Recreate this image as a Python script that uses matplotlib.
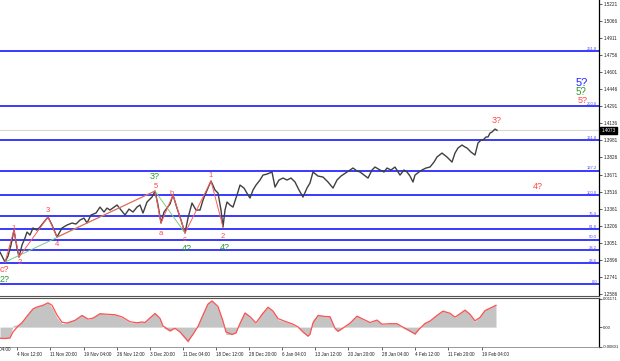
import matplotlib
matplotlib.use("Agg")
import matplotlib.pyplot as plt
import matplotlib.transforms as mtransforms

plt.rcParams['font.family'] = ['Liberation Sans', 'DejaVu Sans']

# price path (bar index, close)
bar_x = [0, 3, 5, 8, 11, 14, 17, 19, 22, 25, 27, 30, 33, 37, 40, 44, 48, 52, 57, 62,
         67, 72, 76, 80, 84, 87, 91, 96, 100, 104, 107, 110, 114, 117, 121, 125, 129, 133, 137, 140,
         143, 147, 152, 155, 158, 161, 164, 167, 170, 173, 177, 181, 185, 188, 192, 196, 200, 203, 205, 208,
         211, 215, 218, 221, 223, 225, 227, 230, 233, 237, 240, 244, 248, 250, 253, 256, 260, 263, 267, 272,
         275, 279, 283, 287, 291, 295, 299, 303, 307, 310, 313, 318, 323, 328, 333, 337, 341, 347, 353, 357,
         360, 364, 368, 372, 375, 380, 384, 387, 391, 395, 400, 404, 407, 410, 413, 415, 419, 422, 426, 430,
         434, 437, 442, 447, 450, 452, 455, 458, 462, 465, 467, 471, 475, 478, 481, 483, 486, 488, 490, 492,
         495, 497]
close = [1.2966, 1.2912, 1.2875, 1.2930, 1.3030, 1.3166, 1.3003, 1.2921, 1.3030, 1.3094, 1.3148, 1.3121, 1.3185, 1.3166, 1.3194, 1.3239, 1.3285, 1.3212, 1.3103, 1.3185,
         1.3212, 1.3230, 1.3221, 1.3257, 1.3275, 1.3230, 1.3303, 1.3321, 1.3375, 1.3330, 1.3366, 1.3348, 1.3375, 1.3394, 1.3348, 1.3303, 1.3357, 1.3330, 1.3375, 1.3394,
         1.3321, 1.3421, 1.3466, 1.3521, 1.3394, 1.3230, 1.3330, 1.3366, 1.3403, 1.3485, 1.3366, 1.3257, 1.3139, 1.3275, 1.3412, 1.3348, 1.3348, 1.3439, 1.3485, 1.3548,
         1.3612, 1.3530, 1.3503, 1.3348, 1.3194, 1.3348, 1.3421, 1.3394, 1.3375, 1.3485, 1.3575, 1.3548, 1.3485, 1.3457, 1.3530, 1.3575, 1.3621, 1.3666, 1.3675, 1.3694,
         1.3557, 1.3621, 1.3639, 1.3621, 1.3639, 1.3603, 1.3530, 1.3466, 1.3548, 1.3594, 1.3694, 1.3657, 1.3648, 1.3603, 1.3548, 1.3621, 1.3657, 1.3694, 1.3730, 1.3703,
         1.3694, 1.3666, 1.3639, 1.3712, 1.3739, 1.3712, 1.3694, 1.3730, 1.3712, 1.3739, 1.3666, 1.3712, 1.3694, 1.3657, 1.3603, 1.3666, 1.3694, 1.3712, 1.3730, 1.3739,
         1.3784, 1.3830, 1.3866, 1.3830, 1.3803, 1.3784, 1.3866, 1.3912, 1.3939, 1.3921, 1.3912, 1.3875, 1.3848, 1.3957, 1.3984, 1.3984, 1.4012, 1.4012, 1.4048, 1.4057,
         1.4084, 1.4073]
last_price = 1.4073

# fibonacci grid
fib_names = ["0.0", "23.6", "38.2", "50.0", "61.8", "76.4", "100.0", "127.2", "161.8", "200.0", "261.8"]
fib_prices = [1.2675, 1.2866, 1.2984, 1.3080, 1.3175, 1.3293, 1.3484, 1.3704, 1.3984, 1.4293, 1.4793]

# wave marks
red_wave_x = [5, 14, 19, 48, 57, 155, 161, 173, 185, 211, 223]
red_wave_p = [1.2875, 1.3166, 1.2921, 1.3285, 1.3103, 1.3521, 1.3230, 1.3485, 1.3139, 1.3612, 1.3194]
green_wave_x = [5, 155, 185]
green_wave_p = [1.2875, 1.3521, 1.3139]

red_labels = ["c?", "1", "2", "3", "4", "5", "a", "b", "c", "1", "2", "3?", "4?"]
red_label_x = [4, 14, 20, 48, 57, 156, 161, 172, 185, 211, 223, 497, 538]
red_label_p = [1.2812, 1.3184, 1.2875, 1.3348, 1.3039, 1.3566, 1.3139, 1.3503, 1.3080, 1.3666, 1.3112, 1.4166, 1.3566]
green_labels = ["2?", "3?", "4?", "4?"]
green_label_x = [5, 155, 187, 225]
green_label_p = [1.2718, 1.3652, 1.2998, 1.3008]

# indicator (histogram + signal)
macd_x = [0, 5, 10, 13, 18, 22, 27, 33, 37, 43, 48, 52, 57, 62, 67, 75, 82, 88, 93, 100,
          107, 115, 122, 130, 137, 142, 145, 150, 155, 160, 163, 170, 175, 180, 188, 193, 198, 203, 208, 212,
          218, 223, 226, 232, 236, 240, 245, 250, 256, 262, 268, 273, 278, 285, 293, 298, 303, 308, 310, 313,
          318, 325, 330, 335, 338, 343, 350, 357, 363, 370, 377, 382, 390, 397, 402, 410, 415, 420, 425, 430,
          437, 443, 450, 455, 460, 465, 470, 475, 480, 485, 492, 496]
macd = [-0.00473, -0.00473, -0.00432, 0.00062, 0.00103, 0.00226, 0.00514, 0.00801, 0.00842, 0.00925, 0.01007, 0.00801, 0.00390, 0.00144, 0.00185, 0.00308, 0.00514, 0.00308, 0.00390, 0.00596,
        0.00514, 0.00514, 0.00390, 0.00185, 0.00185, 0.00226, 0.00185, 0.00432, 0.00596, 0.00308, -0.00021, -0.00185, -0.00021, -0.00226, -0.00637, -0.00226, 0.00103, 0.00596, 0.01007, 0.01089,
        0.00801, 0.00185, -0.00308, -0.00308, -0.00226, 0.00226, 0.00637, 0.00390, 0.00144, 0.00596, 0.00842, 0.00637, 0.00308, 0.00226, 0.00103, -0.00021, -0.00226, -0.00390, -0.00226, 0.00308,
        0.00514, 0.00432, 0.00432, -0.00103, -0.00185, -0.00021, 0.00185, 0.00473, 0.00308, 0.00185, 0.00308, 0.00103, 0.00144, 0.00144, -0.00021, -0.00185, -0.00308, -0.00021, 0.00185, 0.00267,
        0.00514, 0.00678, 0.00555, 0.00390, 0.00596, 0.00719, 0.00514, 0.00226, 0.00432, 0.00719, 0.00842, 0.00925]
signal = [-0.0046, -0.0047, -0.0045, -0.0020, 0.0004, 0.0018, 0.0045, 0.0075, 0.0083, 0.0090, 0.0100, 0.0090, 0.0050, 0.0020, 0.0017, 0.0028, 0.0048, 0.0033, 0.0037, 0.0055,
          0.0053, 0.0051, 0.0042, 0.0022, 0.0018, 0.0021, 0.0019, 0.0038, 0.0056, 0.0036, 0.0005, -0.0015, -0.0005, -0.0020, -0.0058, -0.0030, 0.0003, 0.0050, 0.0095, 0.0108,
          0.0085, 0.0025, -0.0020, -0.0030, -0.0024, 0.0015, 0.0058, 0.0043, 0.0017, 0.0052, 0.0082, 0.0066, 0.0035, 0.0024, 0.0012, 0.0001, -0.0020, -0.0037, -0.0030, 0.0018,
          0.0048, 0.0044, 0.0043, -0.0005, -0.0017, -0.0004, 0.0016, 0.0045, 0.0033, 0.0019, 0.0029, 0.0012, 0.0014, 0.0014, 0.0002, -0.0016, -0.0028, -0.0005, 0.0015, 0.0025,
          0.0048, 0.0066, 0.0057, 0.0041, 0.0055, 0.0070, 0.0053, 0.0026, 0.0040, 0.0068, 0.0082, 0.0090]

date_pos = [17, 50, 84, 117, 150, 183, 216, 249, 282, 315, 348, 382, 415, 448, 482]
date_labels = ["4 Nov 12:00", "11 Nov 20:00", "19 Nov 04:00", "26 Nov 12:00", "3 Dec 20:00",
               "11 Dec 04:00", "18 Dec 12:00", "28 Dec 20:00", "6 Jan 04:00", "13 Jan 12:00",
               "20 Jan 20:00", "28 Jan 04:00", "4 Feb 12:00", "11 Feb 20:00", "19 Feb 04:00"]
price_ticks = [1.5221, 1.5066, 1.4911, 1.4756, 1.4601, 1.4446, 1.4291, 1.4136, 1.3981,
               1.3826, 1.3671, 1.3516, 1.3361, 1.3206, 1.3051, 1.2896, 1.2741, 1.2586]

fig = plt.figure(figsize=(6.2, 3.61), dpi=100)
ax = fig.add_axes([0, 1 - 296 / 361, 599 / 620, 296 / 361])
ax2 = fig.add_axes([0, 1 - 347 / 361, 599 / 620, 49 / 361])

# ---- main panel
ax.set_xlim(0, 599)
ax.set_ylim(1.2567, 1.5257)
ax.axhline(last_price, color='#d8d8d8', lw=0.8, zorder=1)
for lev, name in zip(fib_prices, fib_names):
    ax.axhline(lev, color='#2a2aff', lw=1.3, zorder=2)
    ax.text(597, lev + 0.0004, name, color='#4a4aff', fontsize=3, ha='right', va='bottom')

ax.plot(bar_x, close, color='#404040', lw=1.0, zorder=3)
ax.plot(green_wave_x, green_wave_p, color='#7ccc7c', lw=0.7, zorder=4)
ax.plot(red_wave_x, red_wave_p, color='#ff5a5a', lw=0.7, zorder=4)

for t, x, p in zip(red_labels, red_label_x, red_label_p):
    fs = 6.5 if '?' in t else 5.5
    ax.text(x, p, t, color='#ff4a4a', fontsize=fs, ha='center', va='center', zorder=5)
for t, x, p in zip(green_labels, green_label_x, green_label_p):
    ax.text(x, p, t, color='#2e9a2e', fontsize=6.5, ha='center', va='center', zorder=5)

ax.text(582, 1.4505, "5?", color='#2424ff', fontsize=8, ha='center', va='center')
ax.text(581, 1.4421, "5?", color='#2e9a2e', fontsize=7, ha='center', va='center')
ax.text(583, 1.4342, "5?", color='#ff4a4a', fontsize=6.5, ha='center', va='center')

ax.yaxis.tick_right()
ax.set_yticks(price_ticks)
ax.set_yticklabels(["%.4f" % v for v in price_ticks])
ax.tick_params(axis='y', labelsize=3.3, length=2, width=0.5, pad=1.2, colors='#202020')
ax.set_xticks([])
for s in ['left', 'top']:
    ax.spines[s].set_visible(False)
ax.spines['right'].set_color('black')
ax.spines['right'].set_linewidth(0.9)
ax.spines['bottom'].set_color('#555555')
ax.spines['bottom'].set_linewidth(0.8)

tr = mtransforms.blended_transform_factory(ax.transAxes, ax.transData)
ax.text(1.004, last_price, "%.4f" % last_price, transform=tr, color='white', fontsize=3.3,
        ha='left', va='center', zorder=6,
        bbox=dict(boxstyle='square,pad=0.25', fc='black', ec='black'))

# ---- indicator panel
ax2.set_xlim(0, 599)
ax2.set_ylim(-0.0082, 0.0120)
ax2.fill_between(macd_x, 0, macd, color='#c4c4c4', lw=0)
ax2.plot(macd_x, signal, color='#ff5050', lw=0.9)
ax2.yaxis.tick_right()
ax2.set_yticks([0.01171, 0.0, -0.00801])
ax2.set_yticklabels(["0.01171", "0.00", "-0.00801"])
ax2.tick_params(axis='y', labelsize=3.1, length=2, width=0.5, pad=1.0, colors='#202020')
ax2.set_xticks(date_pos)
ax2.set_xticklabels(date_labels, ha='left')
ax2.tick_params(axis='x', labelsize=3.3, length=2, width=0.5, pad=1.5, colors='#202020')
ax2.text(-16, -0.0082, "28 Oct 04:00", fontsize=3.3, color='#202020', ha='left', va='top',
         clip_on=False, transform=ax2.transData)
ax2.spines['left'].set_visible(False)
ax2.spines['right'].set_color('black')
ax2.spines['right'].set_linewidth(0.9)
ax2.spines['top'].set_color('#555555')
ax2.spines['bottom'].set_color('#888888')
ax2.spines['top'].set_linewidth(0.8)
ax2.spines['bottom'].set_linewidth(0.6)

fig.savefig("out.png", dpi=100)
